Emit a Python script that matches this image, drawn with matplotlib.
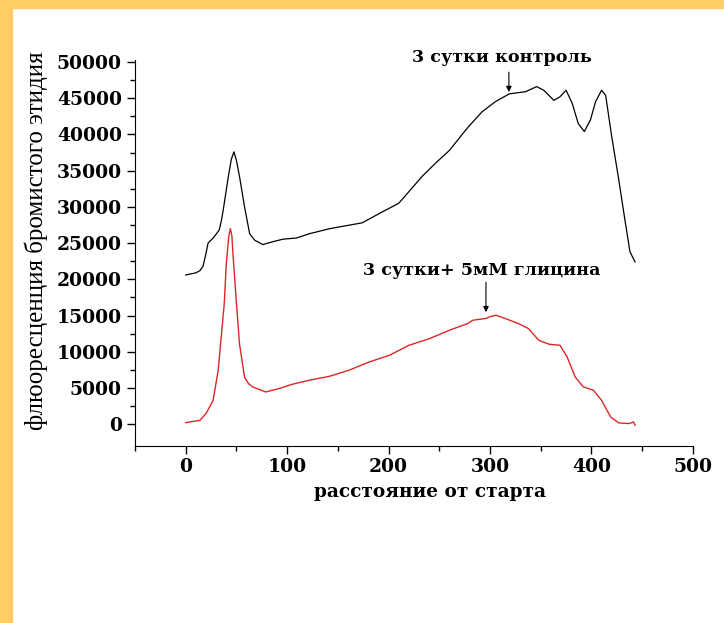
import matplotlib.pyplot as plt
from matplotlib.patches import Rectangle

# control curve (black)
x_ctrl = [0, 10, 14, 17, 20, 22, 27, 33, 35, 37, 42, 45, 47.5, 50, 53, 58, 63,
          68, 76, 86, 96, 109, 122, 142, 174, 191, 210, 220, 233, 246, 260, 276,
          279, 292, 305, 319, 335, 346, 353, 363, 369, 375, 381, 387, 393, 399,
          404, 410, 414, 420, 427, 433, 438, 443]
y_ctrl = [20600, 20900, 21200, 21800, 23600, 25000, 25700, 26800, 28000, 29600,
          34200, 36600, 37600, 36400, 34200, 30000, 26300, 25400, 24800, 25200,
          25550, 25700, 26300, 27000, 27800, 29100, 30500, 32100, 34200, 36000,
          37800, 40600, 41100, 43100, 44500, 45600, 45900, 46600, 46100, 44700,
          45200, 46100, 44300, 41500, 40400, 42000, 44500, 46100, 45400, 39700,
          33700, 28200, 23800, 22400]

# glycine curve (red)
x_gly = [0, 14, 20, 27, 32, 35, 38, 40, 42.5, 44, 45.5, 46.5, 50, 53, 58, 62, 66,
         79, 92, 105, 122, 142, 161, 181, 201, 220, 240, 260, 278, 283, 296, 301,
         306, 315, 328, 338, 348, 358, 369, 376, 384, 392, 402, 410, 419, 427,
         437, 441.5, 443]
y_gly = [230, 550, 1480, 3300, 7460, 12060, 16700, 22200, 26000, 27000, 26000,
         23600, 16700, 11100, 6500, 5600, 5150, 4460, 4930, 5520, 6080, 6630,
         7460, 8600, 9530, 10900, 11800, 12980, 13900, 14360, 14600, 14900, 15050,
         14600, 13900, 13200, 11600, 11050, 10900, 9300, 6530, 5150, 4700, 3300,
         1000, 180, 100, 320, -130]

xticks = [0, 100, 200, 300, 400, 500]
yticks = list(range(0, 50001, 5000))

bold = dict(family='DejaVu Serif', weight='bold')

fig = plt.figure(figsize=(7.24, 6.23), dpi=100)
fig.patch.set_facecolor('white')
fig.patches.append(Rectangle((0, 0.987), 1, 0.013, transform=fig.transFigure,
                             color='#FFCC66', zorder=0))
fig.patches.append(Rectangle((0, 0), 0.017, 1, transform=fig.transFigure,
                             color='#FFCC66', zorder=0))

ax = fig.add_axes([0.1865, 0.2841, 0.957 - 0.1865, 0.904 - 0.2841])
ax.plot(x_ctrl, y_ctrl, color='black', lw=0.9)
ax.plot(x_gly, y_gly, color='#dd2626', lw=1.0)

ax.set_xlim(-50, 500)
ax.set_ylim(-3000, 50300)
ax.spines['top'].set_visible(False)
ax.spines['right'].set_visible(False)
ax.set_xticks(xticks)
ax.set_yticks(yticks)
ax.set_xticks([x + 50 for x in [-100] + xticks[:-1]], minor=True)
ax.set_yticks([y + 2500 for y in yticks[:-1]], minor=True)
ax.tick_params(which='major', direction='out', length=5.5, width=1)
ax.tick_params(axis='y', which='major', pad=4)
ax.tick_params(axis='x', which='major', pad=3)
ax.tick_params(which='minor', direction='out', length=3.5, width=1)
for lab in ax.get_xticklabels() + ax.get_yticklabels():
    lab.set_fontproperties(bold)
    lab.set_fontsize(13.5)

ax.set_xlabel('расстояние от старта', fontsize=13.3, **bold)
ax.xaxis.set_label_coords(0.529, -0.095)
ax.set_ylabel('флюоресценция бромистого этидия', fontsize=18,
              family='Liberation Serif')
ax.yaxis.set_label_coords(-0.156, 0.531)

ax.text(311.7, 50550, '3 сутки контроль', ha='center', va='center',
        fontsize=12.6, clip_on=False, **bold)
ax.annotate('', xy=(318.6, 45860), xytext=(318.6, 48600),
            arrowprops=dict(arrowstyle='-|>', lw=0.8, color='black',
                            mutation_scale=8, shrinkA=0, shrinkB=0),
            annotation_clip=False)
ax.text(292, 21270, '3 сутки+ 5мМ глицина', ha='center', va='center',
        fontsize=12.6, **bold)
ax.annotate('', xy=(296, 15470), xytext=(296, 19600),
            arrowprops=dict(arrowstyle='-|>', lw=0.8, color='black',
                            mutation_scale=8, shrinkA=0, shrinkB=0))

fig.savefig('out.png', dpi=100)
